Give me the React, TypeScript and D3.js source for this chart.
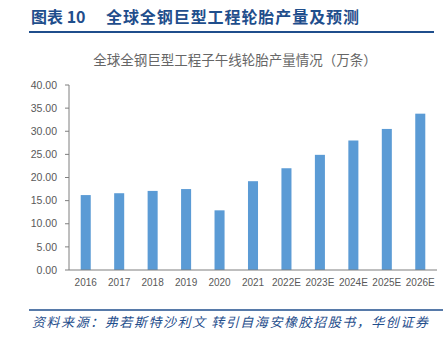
import React from "react";
import * as d3 from "d3";

const categories = ["2016", "2017", "2018", "2019", "2020", "2021", "2022E", "2023E", "2024E", "2025E", "2026E"];
const values = [16.2, 16.6, 17.1, 17.5, 12.9, 19.2, 22.0, 24.9, 28.0, 30.5, 33.8];
const yTicks = [0, 5, 10, 15, 20, 25, 30, 35, 40];

const W = 444;
const H = 338;
const plot = { left: 69, right: 437, top: 85, bottom: 270 };

export default function App() {
  const x = d3.scaleBand<string>().domain(categories).range([plot.left, plot.right]).paddingInner(0.7).paddingOuter(0.35);
  const y = d3.scaleLinear().domain([0, 40]).range([plot.bottom, plot.top]);
  const tickFont = "'Liberation Sans Narrow', 'Liberation Sans', Arial, sans-serif";
  const blue = "#1F4E8C";
  return (
    <svg width={W} height={H} style={{ position: "absolute", left: 0, top: 0, background: "#fff" }}>
      <text x={31} y={23} fontFamily="'Noto Sans CJK SC', sans-serif" fontWeight="bold" fontSize={16} fill={blue}>
        图表 10
      </text>
      <text x={106} y={23} fontFamily="'Noto Sans CJK SC', sans-serif" fontWeight="bold" fontSize={16} fill={blue} textLength={253} lengthAdjust="spacing">
        全球全钢巨型工程轮胎产量及预测
      </text>
      <line x1={29} x2={434} y1={32} y2={32} stroke={blue} strokeWidth={1.8} />
      <text x={235} y={65} textAnchor="middle" fontFamily="'Noto Sans CJK SC', sans-serif" fontSize={13.5} fill="#666">
        全球全钢巨型工程子午线轮胎产量情况（万条）
      </text>
      {values.map((v, i) => (
        <rect key={categories[i]} x={x(categories[i])} y={y(v)} width={x.bandwidth()} height={y(0) - y(v)} fill="#5B9BD5" />
      ))}
      <line x1={plot.left} x2={plot.left} y1={plot.top} y2={plot.bottom} stroke="#7f7f7f" />
      <line x1={plot.left} x2={plot.right} y1={plot.bottom} y2={plot.bottom} stroke="#7f7f7f" />
      {yTicks.map((t) => (
        <g key={t}>
          <line x1={plot.left - 4} x2={plot.left} y1={y(t)} y2={y(t)} stroke="#7f7f7f" />
          <text x={57} y={y(t)} dy="0.35em" textAnchor="end" fontFamily={tickFont} fontSize={10.5} fill="#595959">
            {t.toFixed(2)}
          </text>
        </g>
      ))}
      {categories.map((c) => (
        <text key={c} x={(x(c) as number) + x.bandwidth() / 2} y={286} textAnchor="middle" fontFamily={tickFont} fontSize={10} fill="#595959">
          {c}
        </text>
      ))}
      <line x1={29} x2={443} y1={310} y2={310} stroke={blue} strokeWidth={1.5} />
      <text x={32} y={327} fontFamily="'Noto Sans CJK SC', sans-serif" fontStyle="italic" fontSize={13} fill={blue} textLength={396} lengthAdjust="spacing">
        资料来源：弗若斯特沙利文 转引自海安橡胶招股书，华创证券
      </text>
    </svg>
  );
}
